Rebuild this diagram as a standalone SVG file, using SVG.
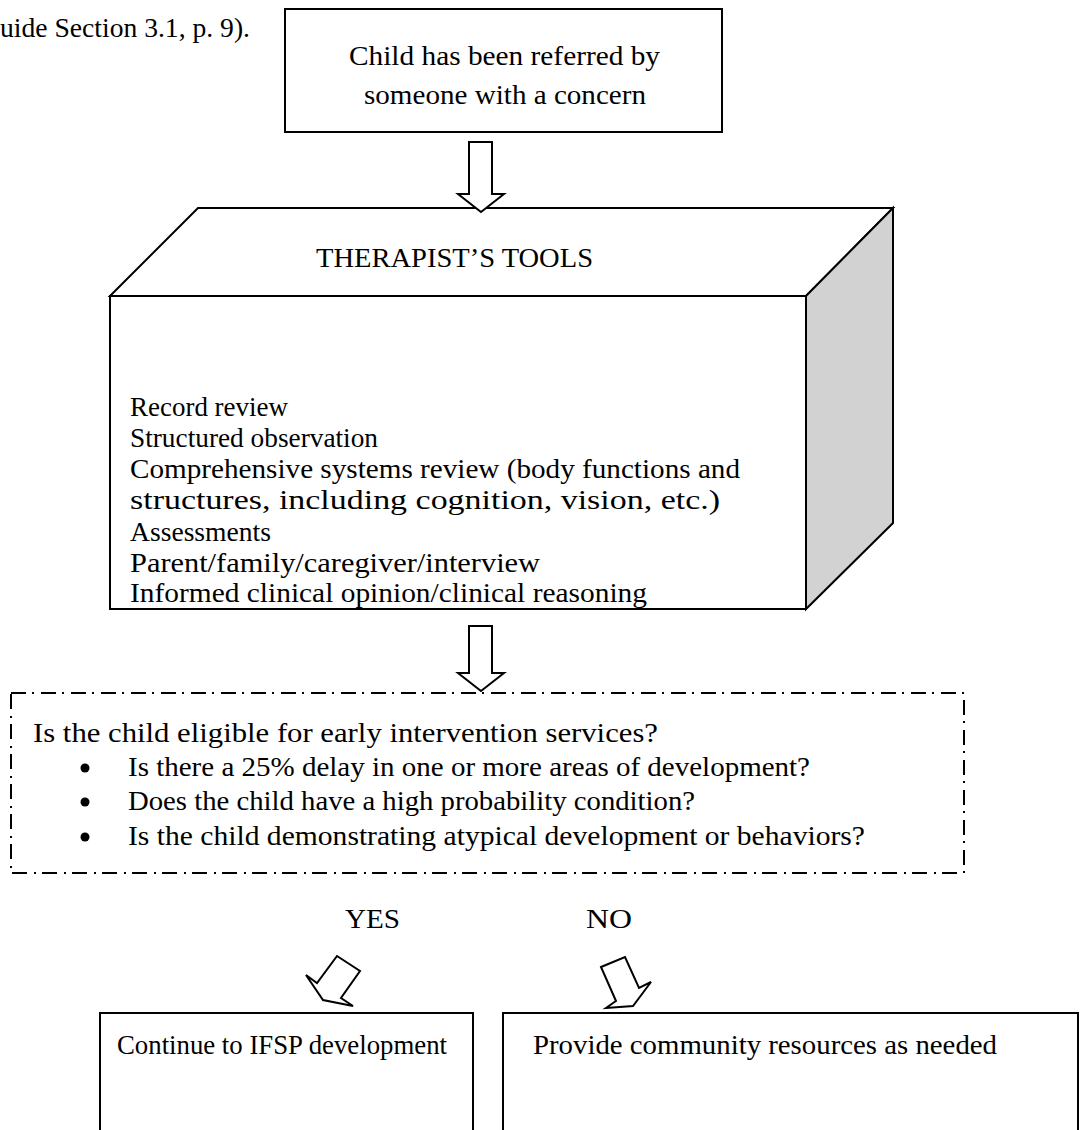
<svg xmlns="http://www.w3.org/2000/svg" width="1080" height="1130" viewBox="0 0 1080 1130">
  <style>
    .bg { fill: #ffffff; }
    .box { fill: #ffffff; stroke: #000000; stroke-width: 2; }
    .side { fill: #d2d2d2; stroke: #000000; stroke-width: 2; stroke-linejoin: miter; }
    .dash { fill: none; stroke: #000000; stroke-width: 2; stroke-dasharray: 15 6 2 7; }
    .arrow { fill: #ffffff; stroke: #000000; stroke-width: 2; stroke-linejoin: miter; }
    .t { font-family: "Liberation Serif", "Times New Roman", serif; font-size: 28px; fill: #000000; }
    .tl { font-family: "Liberation Serif", "Times New Roman", serif; font-size: 27px; fill: #000000; }
    .tb { font-family: "Liberation Serif", "Times New Roman", serif; font-size: 26.5px; fill: #000000; }
  </style>
  <rect class="bg" x="0" y="0" width="1080" height="1130"/>

  <!-- running text above the chart -->
  <text class="t" x="0" y="37" textLength="250" lengthAdjust="spacingAndGlyphs">uide Section 3.1, p. 9).</text>

  <!-- referral box -->
  <g id="referral">
    <rect class="box" x="285" y="9" width="437" height="123"/>
    <text class="t" x="349" y="65" textLength="311" lengthAdjust="spacingAndGlyphs">Child has been referred by</text>
    <text class="t" x="364" y="104" textLength="282" lengthAdjust="spacingAndGlyphs">someone with a concern</text>
  </g>

  <!-- therapist's tools: drawn as a 3D block -->
  <g id="tools">
    <polygon class="box" points="110,296 198,208 893,208 806,296"/>
    <polygon class="side" points="806,296 893,208 893,523 806,609"/>
    <rect class="box" x="110" y="296" width="696" height="313"/>
    <text class="t" x="316" y="267" textLength="277" lengthAdjust="spacingAndGlyphs">THERAPIST’S TOOLS</text>
    <text class="tl" x="130" y="416" textLength="158" lengthAdjust="spacingAndGlyphs">Record review</text>
    <text class="tl" x="130" y="447" textLength="248" lengthAdjust="spacingAndGlyphs">Structured observation</text>
    <text class="tl" x="130" y="478" textLength="610" lengthAdjust="spacingAndGlyphs">Comprehensive systems review (body functions and</text>
    <text class="tl" x="130" y="509" textLength="590" lengthAdjust="spacingAndGlyphs">structures, including cognition, vision, etc.)</text>
    <text class="tl" x="130" y="541" textLength="141" lengthAdjust="spacingAndGlyphs">Assessments</text>
    <text class="tl" x="130" y="572" textLength="410" lengthAdjust="spacingAndGlyphs">Parent/family/caregiver/interview</text>
    <text class="tl" x="130" y="602" textLength="517" lengthAdjust="spacingAndGlyphs">Informed clinical opinion/clinical reasoning</text>
  </g>

  <!-- eligibility question, dash-dot frame -->
  <g id="eligibility">
    <rect class="dash" x="11" y="693" width="953" height="180"/>
    <text class="t" x="33" y="742" textLength="625" lengthAdjust="spacingAndGlyphs">Is the child eligible for early intervention services?</text>
    <circle cx="85" cy="768" r="4.5" fill="#000000"/>
    <circle cx="85" cy="802" r="4.5" fill="#000000"/>
    <circle cx="85" cy="837" r="4.5" fill="#000000"/>
    <text class="t" x="128" y="776" textLength="682" lengthAdjust="spacingAndGlyphs">Is there a 25% delay in one or more areas of development?</text>
    <text class="t" x="128" y="810" textLength="567" lengthAdjust="spacingAndGlyphs">Does the child have a high probability condition?</text>
    <text class="t" x="128" y="845" textLength="737" lengthAdjust="spacingAndGlyphs">Is the child demonstrating atypical development or behaviors?</text>
  </g>

  <!-- outcome labels -->
  <g id="label-yes">
    <text class="t" x="345" y="928" textLength="55" lengthAdjust="spacingAndGlyphs">YES</text>
  </g>
  <g id="label-no">
    <text class="t" x="586" y="928" textLength="46" lengthAdjust="spacingAndGlyphs">NO</text>
  </g>

  <!-- outcomes -->
  <g id="ifsp">
    <rect class="box" x="100" y="1013" width="373" height="140"/>
    <text class="tb" x="117" y="1054" textLength="330" lengthAdjust="spacingAndGlyphs">Continue to IFSP development</text>
  </g>
  <g id="community">
    <rect class="box" x="503" y="1013" width="575" height="140"/>
    <text class="tb" x="533" y="1054" textLength="464" lengthAdjust="spacingAndGlyphs">Provide community resources as needed</text>
  </g>

  <!-- block arrows between the steps -->
  <g id="connectors">
    <polygon class="arrow" points="469,142 492,142 492,194 504,194 481,212 458,194 469,194"/>
    <polygon class="arrow" points="469,626 492,626 492,673 504,673 481,691 458,673 469,673"/>
    <polygon class="arrow" points="337,956 360,971 341,998 353,1006 323,1000 306,975 317,983"/>
    <polygon class="arrow" points="601,967 625,957 639,988 651,982 633,1006 606,1008 616,1001"/>
  </g>
</svg>
